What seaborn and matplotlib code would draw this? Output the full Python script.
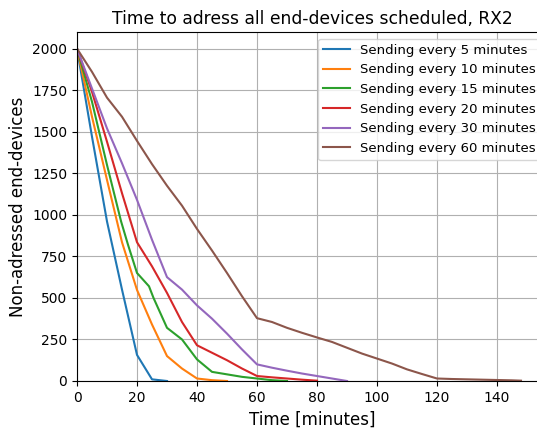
import matplotlib
matplotlib.use("Agg")
import matplotlib.pyplot as plt
import seaborn as sns
import pandas as pd

# Series: time (minutes) and non-addressed end-devices
t_5 = [0, 5, 10, 15, 20, 25, 30]
v_5 = [2000, 1470, 960, 550, 157, 10, 0]

t_10 = [0, 5, 10, 15, 20, 25, 30, 35, 40, 45, 50]
v_10 = [2000, 1590, 1210, 835, 548, 340, 150, 75, 15, 5, 0]

t_15 = [0, 5, 8, 10, 14.7, 17, 20, 24, 25.5, 30, 35, 40, 45, 50, 55, 60, 65, 70]
v_15 = [2000, 1680, 1452, 1300, 960, 820, 650, 570, 500, 320, 250, 130, 55, 40, 25, 15, 5, 0]

t_20 = [0, 5, 10, 15, 20, 25, 30, 35, 40, 45, 50, 55, 60, 65, 70, 75, 80]
v_20 = [2000, 1740, 1440, 1130, 835, 690, 530, 355, 215, 170, 125, 75, 30, 22, 15, 8, 2]

t_30 = [0, 5, 10, 15, 20, 25, 30, 35, 40, 45, 50, 55, 60, 65, 70, 75, 80, 85, 90]
v_30 = [2000, 1760, 1520, 1310, 1090, 850, 625, 550, 455, 375, 285, 190, 100, 80, 62, 45, 30, 15, 0]

t_60 = [0, 5, 10, 15, 20, 25, 30, 35, 40, 45, 50, 55, 60, 65, 70, 75, 80, 85, 90,
        95, 100, 105, 110, 115, 120, 125, 130, 135, 140, 145, 148]
v_60 = [2000, 1860, 1705, 1590, 1445, 1305, 1175, 1055, 915, 785, 650, 510, 378, 355,
        320, 290, 262, 235, 200, 165, 135, 105, 70, 42, 15, 12, 10, 8, 6, 4, 2]

labels = ["Sending every 5 minutes", "Sending every 10 minutes", "Sending every 15 minutes",
          "Sending every 20 minutes", "Sending every 30 minutes", "Sending every 60 minutes"]
series = [(t_5, v_5), (t_10, v_10), (t_15, v_15), (t_20, v_20), (t_30, v_30), (t_60, v_60)]

rows = []
for lab, (ts, vs) in zip(labels, series):
    for t, v in zip(ts, vs):
        rows.append({"Time": t, "Value": v, "Series": lab})
df = pd.DataFrame(rows)

W, H = 537, 430
fig = plt.figure(figsize=(W / 100, H / 100), dpi=100)
ax = fig.add_axes([77 / W, 49 / H, 471 / W, (381 - 32) / H])

sns.lineplot(data=df, x="Time", y="Value", hue="Series", hue_order=labels,
             palette="tab10", ax=ax, linewidth=1.5, sort=False, estimator=None)

ax.set_xlim(0, 157)
ax.set_ylim(0, 2100)
ax.set_xticks([0, 20, 40, 60, 80, 100, 120, 140])
ax.set_yticks([0, 250, 500, 750, 1000, 1250, 1500, 1750, 2000])
ax.grid(True)
ax.set_title("Time to adress all end-devices scheduled, RX2", fontsize=12.3)
ax.set_xlabel("Time [minutes]", fontsize=12)
ax.set_ylabel("Non-adressed end-devices", fontsize=12)
ax.legend(loc="upper right", fontsize=9.5)

fig.savefig("out.png", dpi=100)
